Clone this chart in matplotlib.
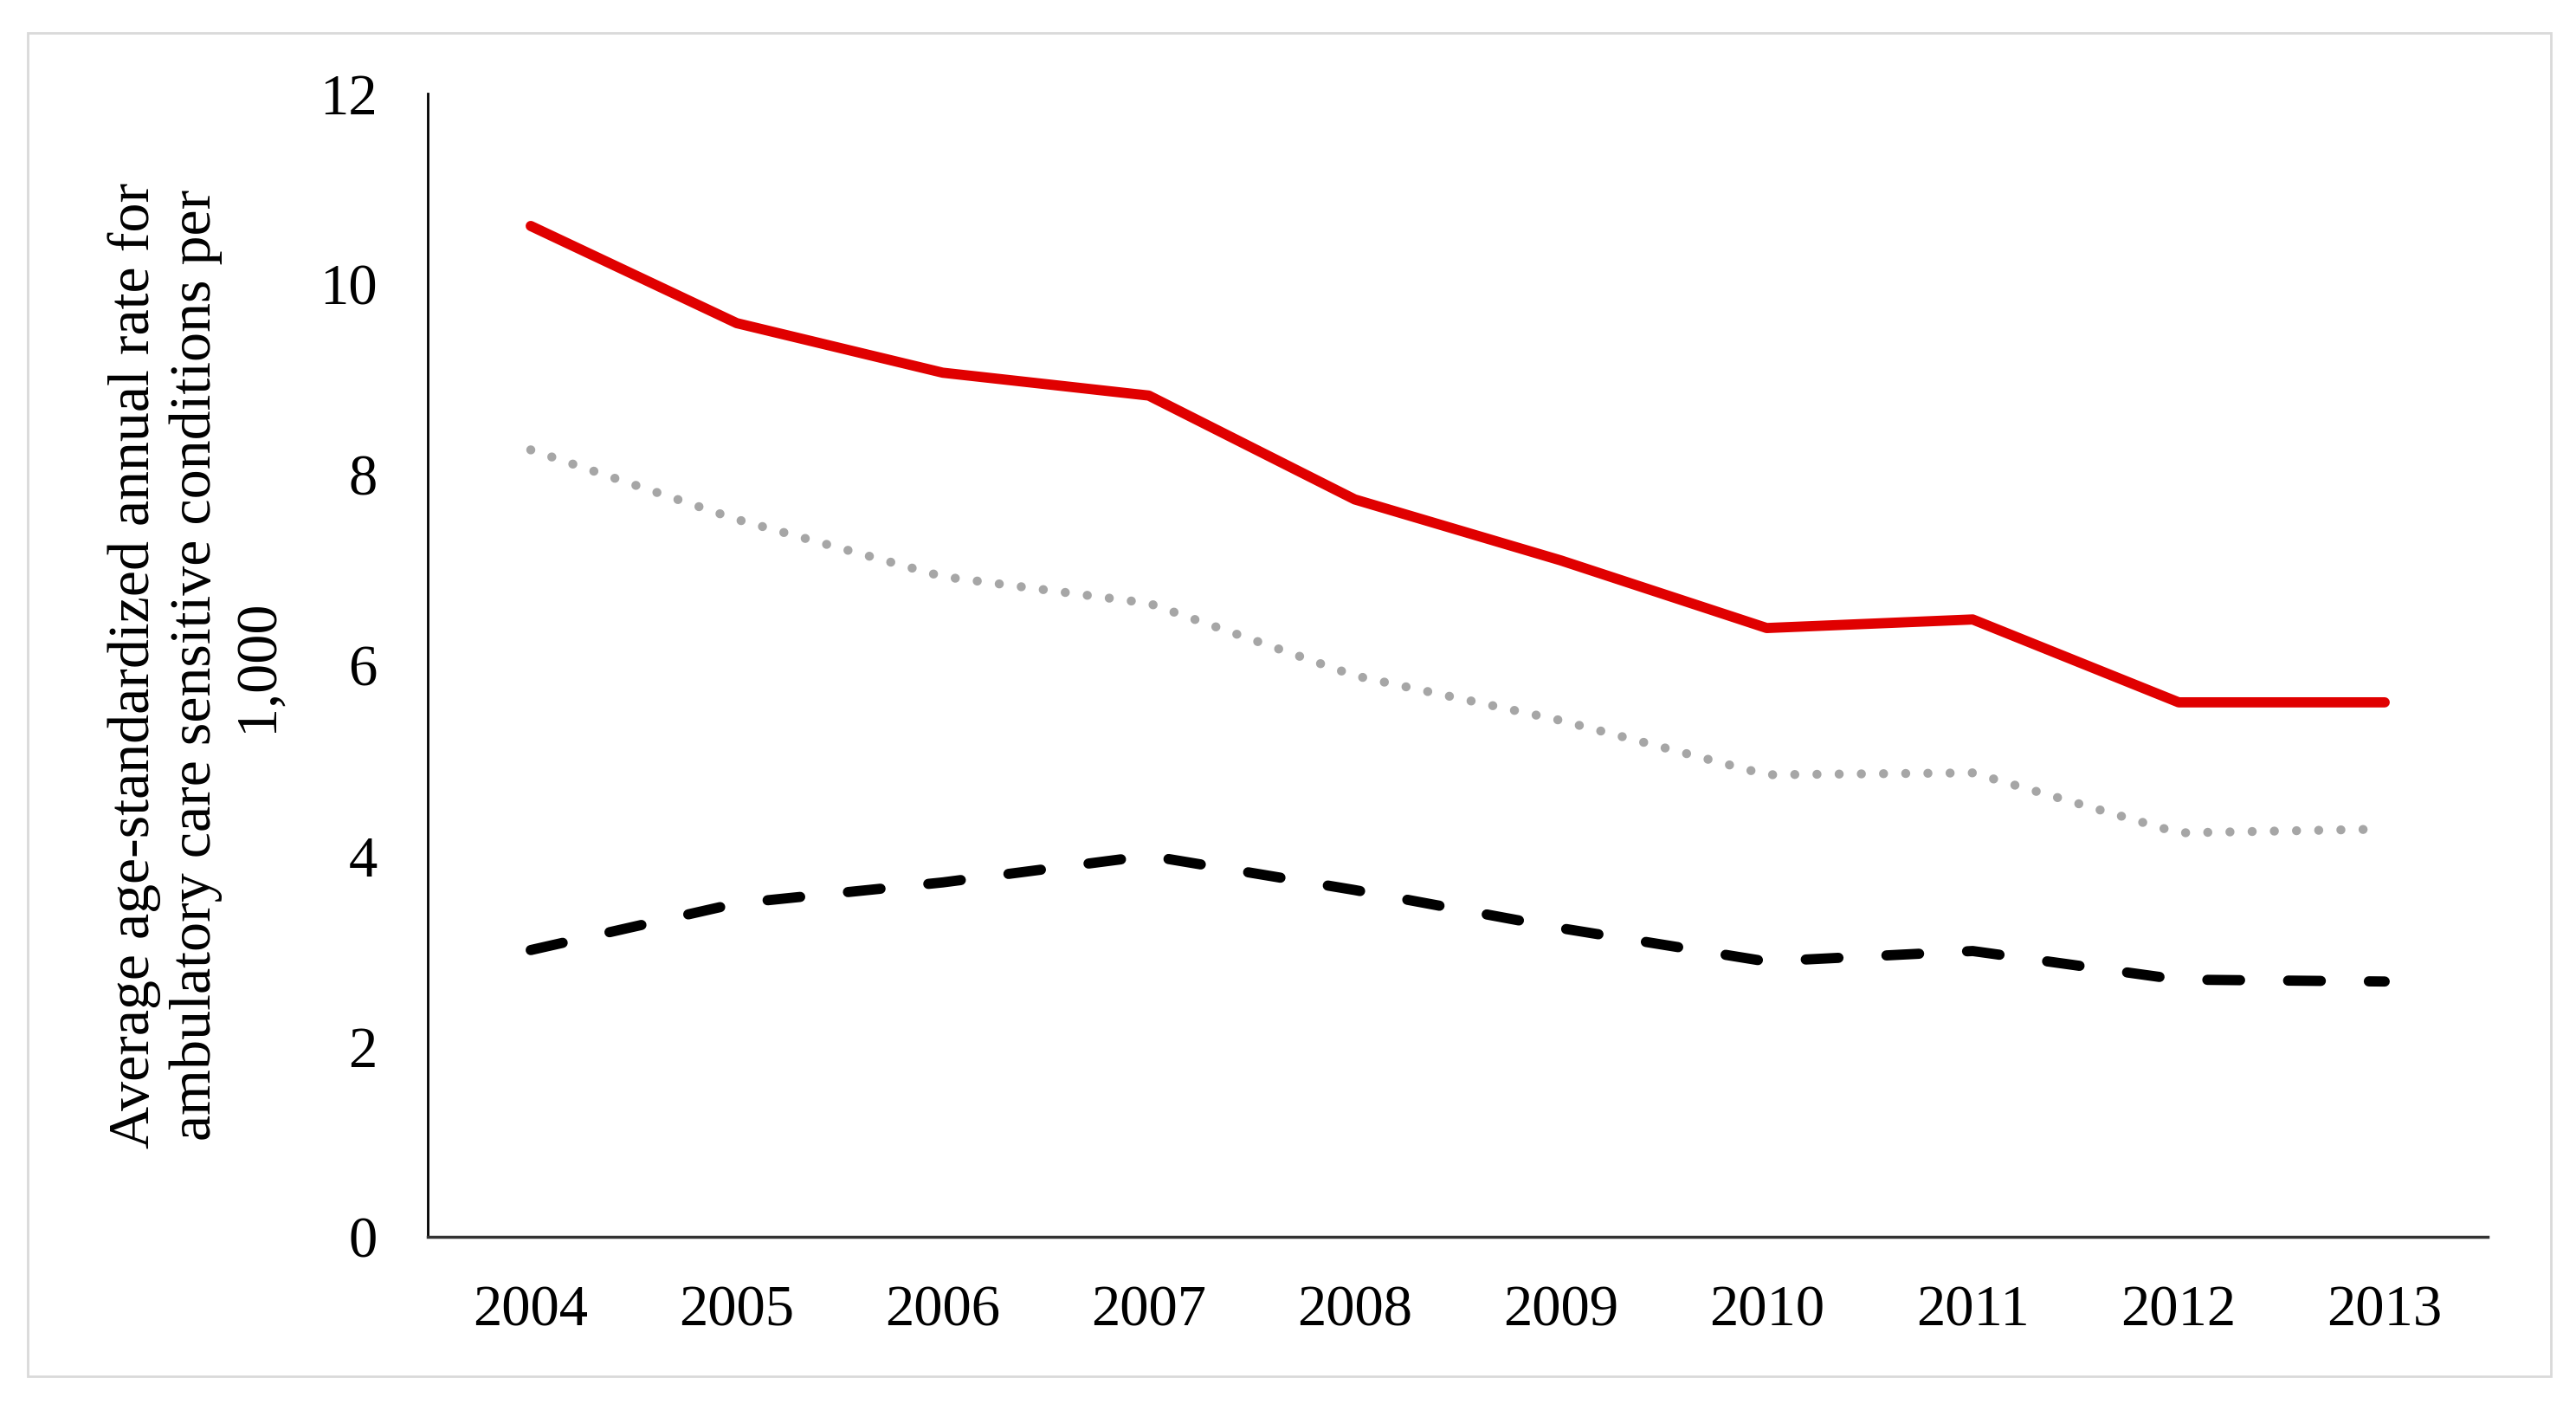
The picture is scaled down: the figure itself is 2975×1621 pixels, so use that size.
import matplotlib
matplotlib.use("Agg")
import matplotlib.pyplot as plt
from matplotlib.patches import Rectangle

years = ["2004", "2005", "2006", "2007", "2008", "2009", "2010", "2011", "2012", "2013"]
red_series = [10.61, 9.59, 9.07, 8.83, 7.74, 7.10, 6.39, 6.48, 5.61, 5.61]
gray_series = [8.26, 7.53, 6.93, 6.65, 5.89, 5.42, 4.85, 4.87, 4.24, 4.28]
black_series = [3.01, 3.50, 3.72, 4.00, 3.64, 3.24, 2.89, 3.00, 2.70, 2.68]
yticks = [0, 2, 4, 6, 8, 10, 12]
ylabel = "Average age-standardized annual rate for\nambulatory care sensitive conditions per\n1,000"

plt.rcParams['font.family'] = ['Liberation Serif', 'DejaVu Serif']

fig = plt.figure(figsize=(29.75, 16.21), dpi=100)
fig.patches.append(Rectangle((32/2975, 1-1589/1621), (2946-32)/2975, (1589-38)/1621,
                             transform=fig.transFigure, fill=False,
                             edgecolor='#D9D9D9', linewidth=2))
ax = fig.add_axes([494/2975, 1-1428/1621, (2873-494)/2975, (1428-108)/1621])

x = list(range(len(years)))
ax.plot(x, red_series, color='#E00000', linewidth=8.5, solid_capstyle='round', solid_joinstyle='round')
ax.plot(x, gray_series, color='#A6A6A6', linewidth=7.5, linestyle=(0, (0.01, 2.45)), dash_capstyle='round')
ax.plot(x, black_series, color='black', linewidth=8.5, linestyle=(0, (3.2, 4.7)), dash_capstyle='round')

ax.set_xlim(-0.5, len(years) - 0.5)
ax.set_ylim(0, 12)
ax.set_yticks(yticks)
ax.set_yticklabels([str(v) for v in yticks])
ax.set_xticks(x)
ax.set_xticklabels(years)
ax.tick_params(axis='both', length=0, labelsize=48, colors='#000000')
ax.tick_params(axis='y', pad=42)
ax.tick_params(axis='x', pad=40)

for s in ['top', 'right']:
    ax.spines[s].set_visible(False)
ax.spines['left'].set_linewidth(2)
ax.spines['left'].set_color('black')
ax.spines['bottom'].set_linewidth(2.5)
ax.spines['bottom'].set_color('#333333')

ax.set_ylabel(ylabel, fontsize=49, labelpad=30, linespacing=1.2)

fig.savefig("out.png", dpi=100, facecolor='white')
